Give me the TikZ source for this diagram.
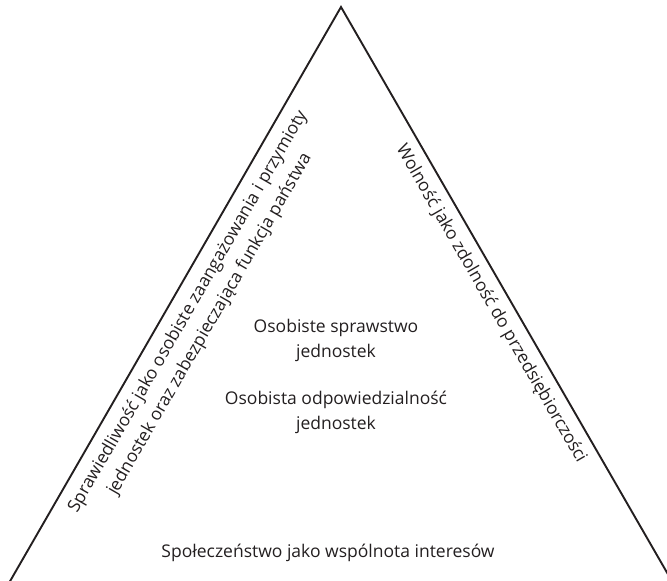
\documentclass[tikz,border=0pt]{standalone}
\usepackage{fontspec}
\setmainfont{Open Sans}
\definecolor{ink}{HTML}{231F20}
\begin{document}
\begin{tikzpicture}[x=1pt,y=-1pt,
  lbl/.style={inner sep=0pt, align=center, text=ink, font=\fontsize{17.5}{25}\selectfont},
  side/.style={draw=ink, line width=1.9pt, line join=miter}]
\useasboundingbox (0,0) rectangle (667,581);
\coordinate (apex) at (341,7);
\coordinate (bl) at (9,583);
\coordinate (br) at (673,583);
\draw[side] (bl) -- (apex) -- (br);
\node[lbl, rotate=60] (left) at (199,318) {Sprawiedliwość jako osobiste zaangażowania i przymioty\\jednostek oraz zabezpieczająca funkcja państwa};
\node[lbl, rotate=-60] (right) at (491,304) {Wolność jako zdolność do przedsiębiorczości};
\node[lbl] (c1) at (336,340) {Osobiste sprawstwo\\jednostek};
\node[lbl] (c2) at (336,412) {Osobista odpowiedzialność\\jednostek};
\node[lbl] (bottom) at (328,553) {Społeczeństwo jako wspólnota interesów};
\end{tikzpicture}
\end{document}
